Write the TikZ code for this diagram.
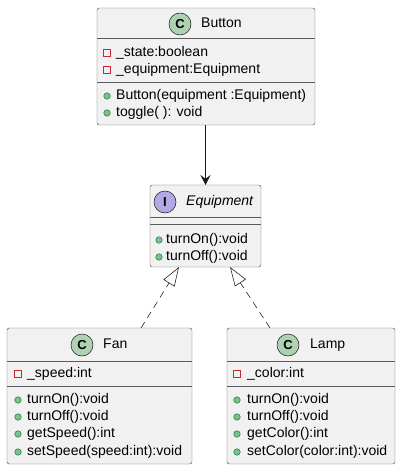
\documentclass[tikz,border=0pt]{standalone}
\usepackage{fontspec}
\setmainfont{Liberation Sans}
\usetikzlibrary{arrows.meta,calc}
\definecolor{boxfill}{HTML}{F1F1F1}
\definecolor{boxline}{HTML}{181818}
\definecolor{sepcol}{HTML}{5A5A5A}
\definecolor{spotC}{HTML}{ADD1B2}
\definecolor{spotI}{HTML}{B4A7E5}
\definecolor{privred}{HTML}{C82930}
\definecolor{pubgreen}{HTML}{84BE84}
\definecolor{publine}{HTML}{038048}
\begin{document}
\begin{tikzpicture}[x=1pt,y=-1pt,
  classbox/.style={draw=sepcol, fill=boxfill, rounded corners=2.5pt, line width=0.45pt,
    inner sep=0pt, outer sep=0pt, rectangle, anchor=north west},
  sepline/.style={draw=sepcol, line width=0.45pt},
  spot/.style={circle, draw=boxline, line width=0.5pt, minimum size=22pt, inner sep=0pt,
    font=\fontsize{13}{13}\selectfont\bfseries},
  title/.style={anchor=west, inner sep=0pt, font=\fontsize{14}{16}\selectfont, text height=10pt, text depth=3pt},
  member/.style={anchor=west, inner sep=0pt, font=\fontsize{14}{16}\selectfont, text height=10pt, text depth=3pt},
  priv/.style={rectangle, draw=privred, line width=0.6pt, minimum size=6.5pt, inner sep=0pt},
  pub/.style={circle, draw=publine, fill=pubgreen, line width=0.5pt, minimum size=6.5pt, inner sep=0pt},
  assoc/.style={draw=boxline, line width=0.7pt, -{Stealth[length=10pt,width=10pt,inset=4pt]}},
  realize/.style={draw=boxline, line width=0.55pt, dash pattern=on 7pt off 5pt,
    -{Triangle[open,length=19pt,width=13pt,fill=white]}}
]
\useasboundingbox (0,0) rectangle (401,470);

% Button
\node[classbox, minimum width=218pt, minimum height=117pt] (button) at (97,8) {};
\draw[sepline] (97,38.5) -- (315,38.5);
\draw[sepline] (97,82) -- (315,82);
\node[spot, fill=spotC] (buttonspot) at (180,24) {C};
\node[title] (buttontitle) at (201,24) {Button};
\node[priv] (b1i) at (107,53) {};
\node[member] (b1) at (116,53) {\_state:boolean};
\node[priv] (b2i) at (107,70) {};
\node[member] (b2) at (116,70) {\_equipment:Equipment};
\node[pub] (b3i) at (107,96) {};
\node[member] (b3) at (116,96) {Button(equipment :Equipment)};
\node[pub] (b4i) at (107,113) {};
\node[member] (b4) at (116,113) {toggle( ): void};

% Equipment
\node[classbox, minimum width=111pt, minimum height=82pt] (equip) at (150,185) {};
\draw[sepline] (150,217) -- (261,217);
\draw[sepline] (150,224) -- (261,224);
\node[spot, fill=spotI] (equipspot) at (165,202) {I};
\node[title, font=\fontsize{14}{16}\selectfont\itshape] (equiptitle) at (186,202) {Equipment};
\node[pub] (e1i) at (159,240) {};
\node[member] (e1) at (166,240) {turnOn():void};
\node[pub] (e2i) at (159,257) {};
\node[member] (e2) at (166,257) {turnOff():void};

% Fan
\node[classbox, minimum width=185pt, minimum height=136pt] (fan) at (7,328) {};
\draw[sepline] (7,361) -- (192,361);
\draw[sepline] (7,386) -- (192,386);
\node[spot, fill=spotC] (fanspot) at (82,345) {C};
\node[title] (fantitle) at (103,345) {Fan};
\node[priv] (f1i) at (18,374) {};
\node[member] (f1) at (27,374) {\_speed:int};
\node[pub] (f2i) at (18,400) {};
\node[member] (f2) at (27,400) {turnOn():void};
\node[pub] (f3i) at (18,417) {};
\node[member] (f3) at (27,417) {turnOff():void};
\node[pub] (f4i) at (18,434) {};
\node[member] (f4) at (27,434) {getSpeed():int};
\node[pub] (f5i) at (18,452) {};
\node[member] (f5) at (27,452) {setSpeed(speed:int):void};

% Lamp
\node[classbox, minimum width=168pt, minimum height=136pt] (lamp) at (227,328) {};
\draw[sepline] (227,361) -- (395,361);
\draw[sepline] (227,386) -- (395,386);
\node[spot, fill=spotC] (lampspot) at (288,345) {C};
\node[title] (lamptitle) at (310,345) {Lamp};
\node[priv] (l1i) at (237,374) {};
\node[member] (l1) at (247,374) {\_color:int};
\node[pub] (l2i) at (237,400) {};
\node[member] (l2) at (247,400) {turnOn():void};
\node[pub] (l3i) at (237,417) {};
\node[member] (l3) at (247,417) {turnOff():void};
\node[pub] (l4i) at (237,434) {};
\node[member] (l4) at (247,434) {getColor():int};
\node[pub] (l5i) at (237,452) {};
\node[member] (l5) at (247,452) {setColor(color:int):void};

% connectors
\draw[assoc] (equip.north |- button.south) -- (equip.north);
\coordinate (eqL) at ($(equip.south west)+(29,0)$);
\coordinate (eqR) at ($(equip.south west)+(80,0)$);
\coordinate (fanTop) at ($(fan.north west)+(134,0)$);
\coordinate (lampTop) at ($(lamp.north west)+(43,0)$);
\draw[realize] (fanTop) -- (eqL);
\draw[realize] (lampTop) -- (eqR);
\end{tikzpicture}
\end{document}
